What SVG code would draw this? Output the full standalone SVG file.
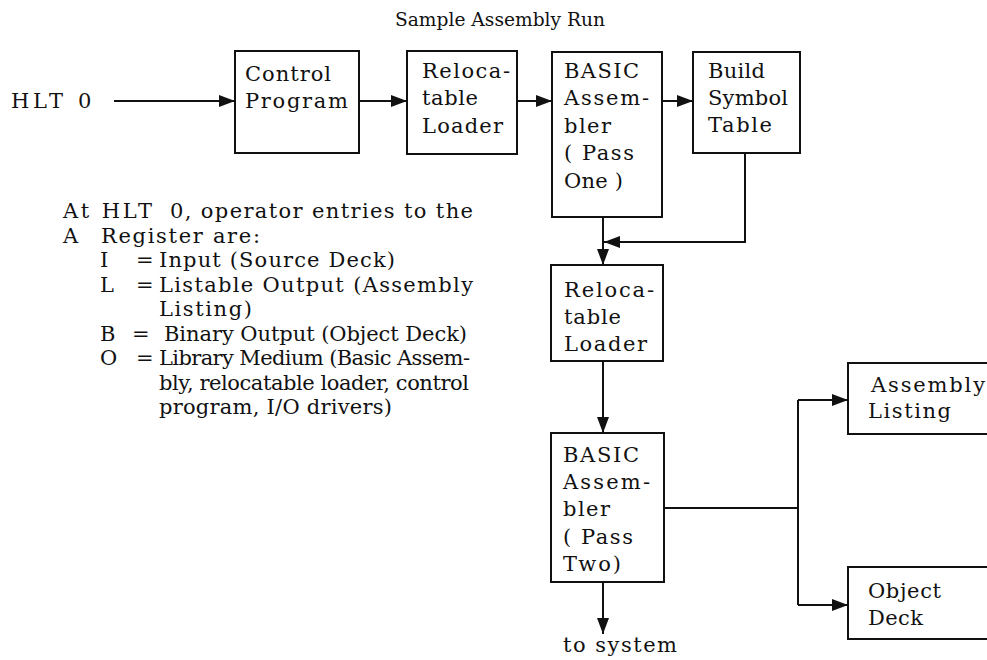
<svg xmlns="http://www.w3.org/2000/svg" width="987" height="660" viewBox="0 0 987 660">
  <style>
    text { font-family: "DejaVu Serif", "Liberation Serif", serif; font-size: 21px; fill: #111; }
    .title { font-size: 19px; }
    .box { fill: #fff; stroke: #111; stroke-width: 2; }
    .wire { fill: none; stroke: #111; stroke-width: 2; }
  </style>
  <defs>
    <marker id="arrow" markerUnits="userSpaceOnUse" markerWidth="16" markerHeight="12" refX="16" refY="6" orient="auto">
      <path d="M0,0 L16,6 L0,12 Z" fill="#111"/>
    </marker>
  </defs>
  <rect width="987" height="660" fill="#fff"/>

  <text id="title" class="title" x="395" y="26" textLength="210" lengthAdjust="spacingAndGlyphs">Sample Assembly Run</text>

  <g id="start">
    <text x="11" y="108" textLength="52" lengthAdjust="spacing">HLT</text>
    <text x="78" y="108">0</text>
  </g>

  <!-- connectors -->
  <g id="connectors">
    <path class="wire" d="M114,101 H235" marker-end="url(#arrow)"/>
    <path class="wire" d="M359,101 H407" marker-end="url(#arrow)"/>
    <path class="wire" d="M517,101 H552" marker-end="url(#arrow)"/>
    <path class="wire" d="M662,101 H693" marker-end="url(#arrow)"/>
    <path class="wire" d="M745,153 V242 H604" marker-end="url(#arrow)"/>
    <path class="wire" d="M603,217 V265" marker-end="url(#arrow)"/>
    <path class="wire" d="M603,361 V433" marker-end="url(#arrow)"/>
    <path class="wire" d="M603,582 V634" marker-end="url(#arrow)"/>
    <path class="wire" d="M664,508 H798"/>
    <path class="wire" d="M798,400 V605"/>
    <path class="wire" d="M798,400 H848" marker-end="url(#arrow)"/>
    <path class="wire" d="M798,605 H848" marker-end="url(#arrow)"/>
  </g>

  <g id="control-program">
    <rect class="box" x="235" y="51" width="124" height="102"/>
    <text x="245" y="81" textLength="86" lengthAdjust="spacing">Control</text>
    <text x="245" y="108" textLength="103" lengthAdjust="spacing">Program</text>
  </g>

  <g id="loader-1">
    <rect class="box" x="407" y="51" width="110" height="103"/>
    <text x="422" y="78" textLength="88" lengthAdjust="spacing">Reloca-</text>
    <text x="422" y="105" textLength="56" lengthAdjust="spacing">table</text>
    <text x="422" y="133" textLength="81" lengthAdjust="spacing">Loader</text>
  </g>

  <g id="assembler-pass-one">
    <rect class="box" x="552" y="52" width="110" height="165"/>
    <text x="564" y="78" textLength="75" lengthAdjust="spacing">BASIC</text>
    <text x="564" y="105" textLength="85" lengthAdjust="spacing">Assem-</text>
    <text x="564" y="133" textLength="47" lengthAdjust="spacing">bler</text>
    <text x="564" y="160" textLength="70" lengthAdjust="spacing">( Pass</text>
    <text x="564" y="188" textLength="59" lengthAdjust="spacing">One )</text>
  </g>

  <g id="symbol-table">
    <rect class="box" x="693" y="52" width="107" height="101"/>
    <text x="708" y="78" textLength="57" lengthAdjust="spacing">Build</text>
    <text x="708" y="105" textLength="80" lengthAdjust="spacing">Symbol</text>
    <text x="708" y="132" textLength="64" lengthAdjust="spacing">Table</text>
  </g>

  <g id="loader-2">
    <rect class="box" x="551" y="265" width="112" height="96"/>
    <text x="564" y="297" textLength="90" lengthAdjust="spacing">Reloca-</text>
    <text x="564" y="324" textLength="57" lengthAdjust="spacing">table</text>
    <text x="564" y="351" textLength="83" lengthAdjust="spacing">Loader</text>
  </g>

  <g id="assembler-pass-two">
    <rect class="box" x="551" y="433" width="113" height="149"/>
    <text x="563" y="462" textLength="76" lengthAdjust="spacing">BASIC</text>
    <text x="563" y="489" textLength="87" lengthAdjust="spacing">Assem-</text>
    <text x="563" y="516" textLength="47" lengthAdjust="spacing">bler</text>
    <text x="563" y="544" textLength="70" lengthAdjust="spacing">( Pass</text>
    <text x="563" y="571" textLength="58" lengthAdjust="spacing">Two)</text>
  </g>

  <g id="to-system">
    <text x="563" y="652" textLength="114" lengthAdjust="spacing">to system</text>
  </g>

  <g id="assembly-listing">
    <rect class="box" x="848" y="363" width="160" height="71"/>
    <text x="871" y="392" textLength="114" lengthAdjust="spacing">Assembly</text>
    <text x="868" y="418" textLength="83" lengthAdjust="spacing">Listing</text>
  </g>

  <g id="object-deck">
    <rect class="box" x="848" y="567" width="160" height="72"/>
    <text x="868" y="598" textLength="73" lengthAdjust="spacing">Object</text>
    <text x="868" y="625" textLength="55" lengthAdjust="spacing">Deck</text>
  </g>

  <g id="operator-notes">
    <text x="63" y="218" textLength="89" lengthAdjust="spacing">At HLT</text>
    <text x="170" y="218" textLength="303" lengthAdjust="spacing">0, operator entries to the</text>
    <text x="63" y="242.5">A</text>
    <text x="101" y="242.5" textLength="159" lengthAdjust="spacing">Register are:</text>
    <text x="100" y="267">I</text>
    <text x="136" y="267">=</text>
    <text x="159" y="267" textLength="236" lengthAdjust="spacing">Input (Source Deck)</text>
    <text x="100" y="291.5">L</text>
    <text x="136" y="291.5">=</text>
    <text x="159" y="291.5" textLength="314" lengthAdjust="spacing">Listable Output (Assembly</text>
    <text x="159" y="316" textLength="93" lengthAdjust="spacing">Listing)</text>
    <text x="100" y="340.5">B</text>
    <text x="132" y="340.5">=</text>
    <text x="164" y="340.5" textLength="303" lengthAdjust="spacing">Binary Output (Object Deck)</text>
    <text x="100" y="365">O</text>
    <text x="136" y="365">=</text>
    <text x="159" y="365" textLength="311" lengthAdjust="spacing">Library Medium (Basic Assem-</text>
    <text x="159" y="389.5" textLength="310" lengthAdjust="spacing">bly, relocatable loader, control</text>
    <text x="159" y="414" textLength="233" lengthAdjust="spacing">program, I/O drivers)</text>
  </g>
</svg>
